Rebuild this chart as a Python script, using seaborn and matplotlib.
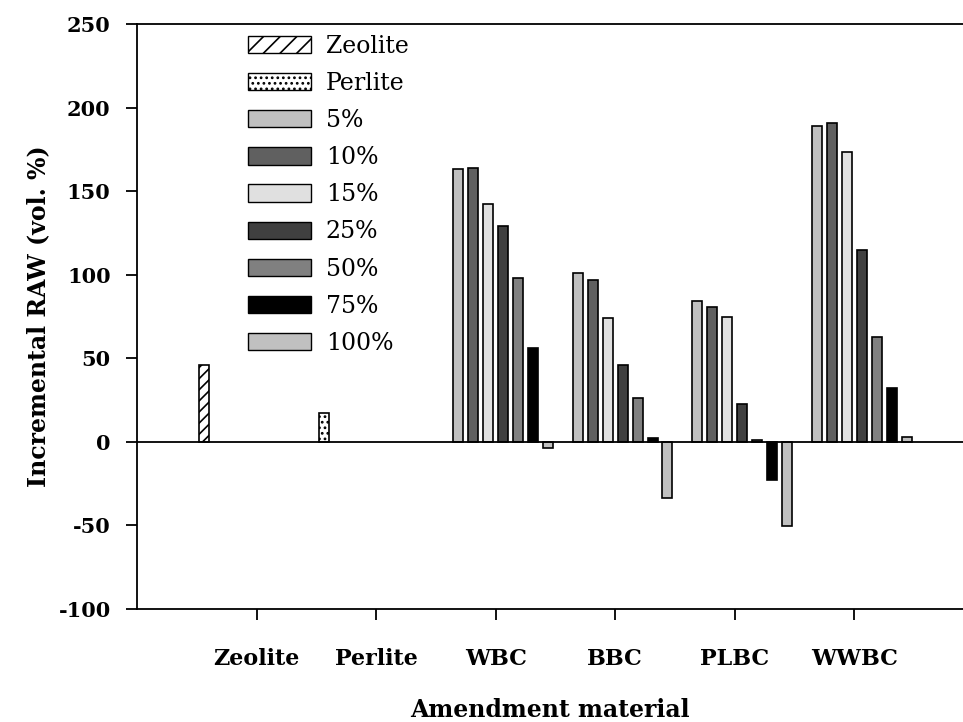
import matplotlib
matplotlib.use("Agg")
import matplotlib.pyplot as plt
from matplotlib.patches import Patch
import seaborn as sns
import pandas as pd

categories = ["Zeolite", "Perlite", "WBC", "BBC", "PLBC", "WWBC"]
rates = ["5%", "10%", "15%", "25%", "50%", "75%", "100%"]
zeolite_value = 46
perlite_value = 17
wbc = [163, 164, 142, 129, 98, 56, -3.5]
bbc = [101, 97, 74, 46, 26, 2.2, -33.5]
plbc = [84, 80.5, 74.5, 22.5, 1.4, -23, -50.5]
wwbc = [189, 191, 173.5, 114.5, 62.5, 32.5, 3]

rate_colors = ["#c0c0c0", "#606060", "#e0e0e0", "#404040", "#808080", "#000000", "#c0c0c0"]
mineral_level = "Mineral"

rows = [("Zeolite", mineral_level, zeolite_value), ("Perlite", mineral_level, perlite_value)]
for cat, vals in zip(["WBC", "BBC", "PLBC", "WWBC"], [wbc, bbc, plbc, wwbc]):
    for r, v in zip(rates, vals):
        rows.append((cat, r, v))
df = pd.DataFrame(rows, columns=["material", "level", "value"])

hue_order = [mineral_level] + rates
palette = {mineral_level: "#ffffff"}
palette.update(dict(zip(rates, rate_colors)))

sns.set_theme(style="white")
plt.rcParams["font.family"] = ["DejaVu Serif"]
plt.rcParams["hatch.linewidth"] = 1.2
plt.rcParams["axes.unicode_minus"] = False
plt.rcParams["text.color"] = "black"
plt.rcParams["axes.labelcolor"] = "black"
plt.rcParams["xtick.color"] = "black"
plt.rcParams["ytick.color"] = "black"

fig = plt.figure(figsize=(9.63, 7.22), dpi=100)
ax = fig.add_axes([0.1423, 0.1565, 0.8577, 0.8103])

sns.barplot(data=df, x="material", y="value", hue="level", order=categories,
            hue_order=hue_order, palette=palette, width=1.0, gap=0.33,
            edgecolor="black", linewidth=1.2, saturation=1, legend=False, ax=ax,
            errorbar=None)

# hatch mineral bars
for bar in ax.containers[0]:
    xc = bar.get_x() + bar.get_width() / 2
    if bar.get_height() == 0 or pd.isna(bar.get_height()):
        continue
    if xc < 0.5:
        bar.set_hatch("///")
    else:
        bar.set_hatch("...")

ax.axhline(0, color="black", lw=1.3, zorder=5)
ax.set_xlim(-1.0, 5.91)
ax.set_ylim(-100, 250)
ax.set_yticks(range(-100, 251, 50))
for s in ["left", "bottom", "top"]:
    ax.spines[s].set_color("black")
    ax.spines[s].set_linewidth(1.3)
ax.spines["right"].set_visible(False)
ax.tick_params(axis="both", direction="out", length=8, width=1.3, color="black",
               left=True, bottom=True, labelcolor="black")
ax.tick_params(axis="x", pad=20)
ax.tick_params(axis="y", pad=11)
for lab in ax.get_xticklabels():
    lab.set_fontweight("bold")
    lab.set_fontsize(16)
for lab in ax.get_yticklabels():
    lab.set_fontweight("bold")
    lab.set_fontsize(15)
ax.set_xlabel("Amendment material", fontsize=17, fontweight="bold", labelpad=20)
ax.set_ylabel("Incremental RAW (vol. %)", fontsize=17, fontweight="bold", labelpad=6)

handles = [Patch(facecolor="white", edgecolor="black", hatch="//", label="Zeolite"),
           Patch(facecolor="white", edgecolor="black", hatch="...", label="Perlite")]
for r, c in zip(rates, rate_colors):
    handles.append(Patch(facecolor=c, edgecolor="black", label=r))
ax.legend(handles=handles, loc="upper left", bbox_to_anchor=(0.114, 1.01), frameon=False,
          fontsize=17, handlelength=2.7, handleheight=0.75, labelspacing=0.6,
          handletextpad=0.6, borderaxespad=0.3)

fig.savefig("out.png", dpi=100)
